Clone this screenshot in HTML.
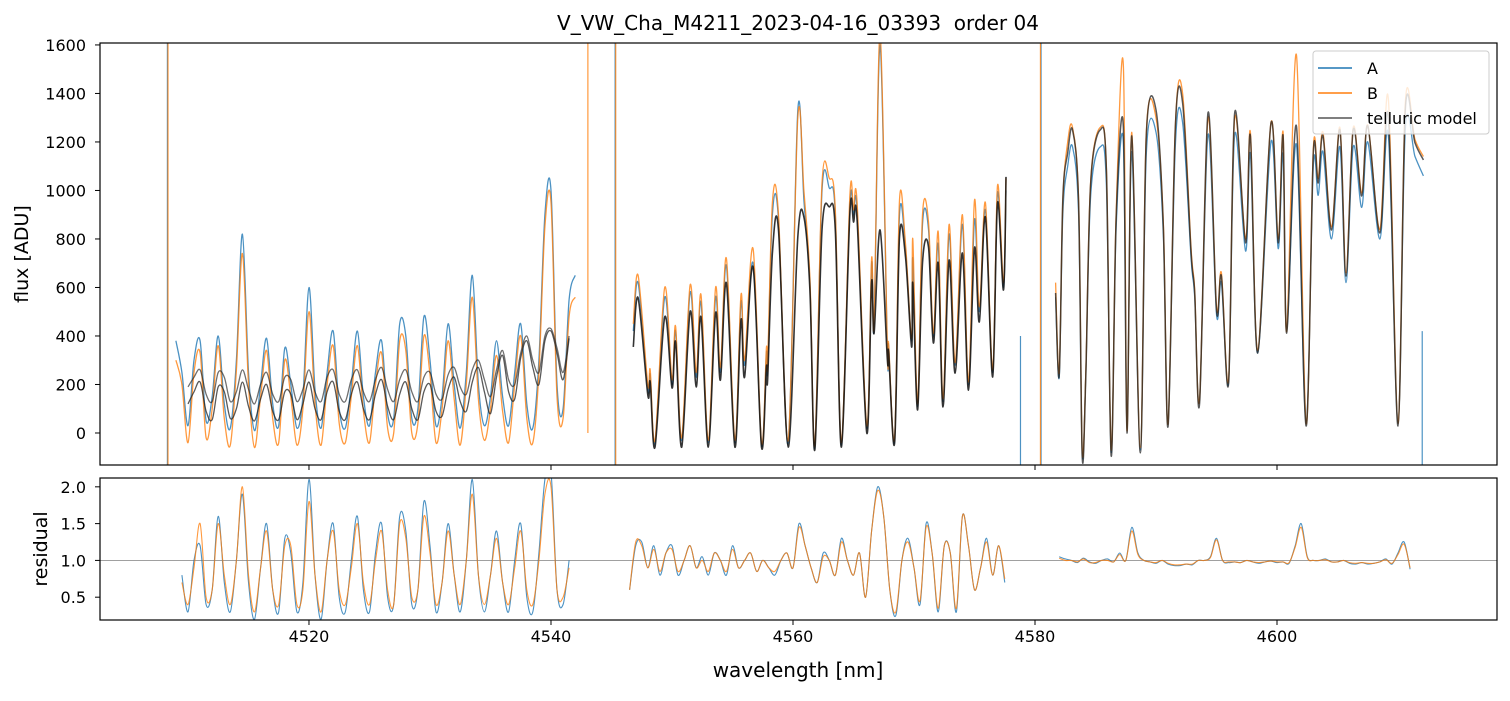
<!DOCTYPE html>
<html><head><meta charset="utf-8"><style>
body{margin:0;background:#fff}
svg text{font-family:"DejaVu Sans","Liberation Sans",sans-serif;fill:#000}
</style></head><body>
<svg id="chart" width="1510" height="696" viewBox="0 0 1510 696" xmlns="http://www.w3.org/2000/svg">
<defs>
<clipPath id="clipTop"><rect x="100" y="43" width="1397" height="422"/></clipPath>
<clipPath id="clipBot"><rect x="100" y="478" width="1397" height="142"/></clipPath>
</defs>
<text x="798" y="30" font-size="20" text-anchor="middle" style="white-space:pre">V_VW_Cha_M4211_2023-04-16_03393  order 04</text>
<g id="topPanel"></g>
<g id="botPanel"></g>
<text transform="translate(28,254) rotate(-90)" font-size="19" text-anchor="middle">flux [ADU]</text>
<text transform="translate(47,549) rotate(-90)" font-size="19" text-anchor="middle">residual</text>
<text x="798" y="677" font-size="20" text-anchor="middle">wavelength [nm]</text>
<g>
<rect x="1313" y="51" width="176" height="83" rx="3" fill="#fff" fill-opacity="0.8" stroke="#ccc"/>
<line x1="1318" y1="68" x2="1352" y2="68" stroke="#1f77b4" stroke-width="1.5"/>
<text x="1367" y="74" font-size="16">A</text>
<line x1="1318" y1="93" x2="1352" y2="93" stroke="#ff7f0e" stroke-width="1.5"/>
<text x="1367" y="99" font-size="16">B</text>
<line x1="1318" y1="118" x2="1352" y2="118" stroke="#555" stroke-width="1.5"/>
<text x="1367" y="124" font-size="16">telluric model</text>
</g>
</svg>
<script>
const xTicks = [4520, 4540, 4560, 4580, 4600];
const fluxTicks = [0, 200, 400, 600, 800, 1000, 1200, 1400, 1600];
const residTicks = [0.5, 1.0, 1.5, 2.0];

const r1Start = 4509.0, r1Step = 0.5;
const fluxA1 = [380,250,30,300,380,50,150,400,120,20,300,820,250,10,200,390,120,30,350,200,20,150,600,180,20,250,420,100,20,200,420,150,30,250,380,80,60,450,400,60,100,480,300,30,150,450,200,20,250,650,200,30,150,380,150,30,250,450,120,20,300,900,1000,200,100,550,650];
const fluxB1 = [300,200,-40,250,330,-20,100,360,60,-50,260,740,200,-60,150,340,60,-40,300,150,-50,100,500,120,-50,200,360,40,-40,150,360,90,-40,200,330,20,0,380,340,0,40,400,240,-40,100,380,140,-50,200,560,140,-30,100,320,90,-40,200,400,60,-40,250,850,950,150,60,480,560];
const modelStart1 = 4510.0;
const modelUp1 = [190,230,260,160,130,250,230,130,170,260,180,120,200,250,160,130,230,220,130,180,260,170,130,230,260,160,130,220,260,170,130,220,270,180,130,220,260,170,130,230,250,160,140,240,270,190,160,260,300,220,150,260,340,220,200,330,400,300,250,400,430,350,250,400];
const modelLo1 = [120,170,210,90,55,190,170,60,100,210,110,50,140,200,90,55,170,160,55,120,210,100,55,170,210,90,55,160,210,100,55,160,220,110,55,160,210,100,55,170,200,90,70,180,230,130,90,210,270,170,80,230,320,170,140,310,380,270,200,380,420,330,220,390];

const wl2 = [4546.8,4547.2,4548.0,4548.2,4548.6,4549.4,4550.0,4550.3,4550.8,4551.5,4552.0,4552.4,4553.0,4553.6,4554.0,4554.5,4555.2,4555.7,4556.0,4556.7,4557.4,4557.8,4557.9,4558.3,4558.8,4559.6,4560.4,4560.9,4561.4,4561.8,4562.4,4563.0,4563.5,4564.0,4564.7,4565.0,4565.3,4566.1,4566.5,4566.7,4567.2,4567.8,4567.9,4568.4,4568.8,4569.3,4569.8,4569.9,4570.3,4570.7,4571.2,4571.6,4572.0,4572.4,4572.9,4573.4,4574.0,4574.5,4575.0,4575.4,4575.9,4576.5,4576.9,4577.4,4577.6];
const model2 = [355,557,157,210,-58,478,186,375,-58,500,190,478,-58,495,218,618,-58,466,231,685,-58,272,218,742,837,-58,808,890,590,-70,837,932,837,-58,907,870,878,0,622,412,837,300,334,-41,808,726,355,618,95,701,767,371,701,107,713,247,742,177,763,458,890,231,948,590,1056];
const fluxA2 = [420,620,180,240,-40,560,200,420,-30,580,230,540,-40,560,250,690,-40,540,280,700,-50,330,260,900,880,-40,1330,960,620,-60,1000,1010,900,-50,940,900,920,20,700,440,1600,330,360,-30,900,760,380,720,110,860,840,400,780,130,820,280,860,200,880,500,920,250,990,600,1000];
const fluxB2 = [450,650,200,260,-30,600,220,440,-20,610,250,570,-30,600,270,720,-30,570,300,760,-40,350,280,950,900,-30,1300,1000,640,-50,1030,1050,920,-40,980,920,950,30,720,450,1650,340,370,-20,960,780,390,800,120,900,870,410,830,140,860,290,900,210,960,520,950,260,1020,620,1050];
const wl3 = [4581.7,4582.0,4582.3,4582.7,4583.1,4583.6,4583.9,4584.2,4584.6,4585.4,4585.9,4586.3,4586.7,4587.3,4587.6,4588.0,4588.7,4589.2,4590.0,4590.6,4591.0,4591.6,4592.2,4592.9,4593.2,4593.6,4594.3,4595.0,4595.4,4596.0,4596.5,4597.4,4597.8,4598.4,4599.5,4600.1,4600.5,4600.8,4601.6,4602.4,4603.0,4603.4,4603.8,4604.5,4605.2,4605.7,4606.3,4607.0,4607.5,4608.5,4609.2,4610.0,4610.6,4611.4,4612.1];
const model3 = [577,235,961,1155,1250,948,-95,235,1031,1250,1085,-95,878,1266,0,1225,-82,1225,1332,854,29,1266,1361,742,577,124,1320,507,647,206,1320,784,1225,330,1278,784,1225,412,1266,29,1155,1031,1225,837,1250,647,1250,977,1266,825,1307,29,1332,1196,1126];
const fluxA3 = [560,230,900,1100,1180,900,-80,240,980,1180,1020,-80,840,1200,20,1160,-70,1150,1240,820,40,1190,1280,720,560,140,1230,490,620,210,1230,750,1150,330,1200,760,1150,420,1190,40,1100,980,1160,800,1180,620,1180,930,1200,800,1230,40,1250,1140,1060];
const fluxB3 = [620,250,950,1200,1260,960,-70,250,1040,1260,1090,-70,900,1520,10,1240,-60,1240,1300,870,40,1270,1400,760,590,140,1300,520,660,220,1300,800,1240,340,1280,800,1240,420,1560,40,1170,1050,1240,850,1260,660,1260,990,1270,840,1380,40,1360,1210,1140];
const spikeWlA = [4508.3, 4545.3, 4578.8, 4580.5, 4612.0];
const spikeLoA = [-200, -200, -200, -200, -200];
const spikeHiA = [2000, 2000, 400, 2000, 420];
const spikeWlB = [4508.3, 4543.0, 4545.3, 4580.4];
const spikeLoB = [-200, 0, -200, -200];
const spikeHiB = [2000, 2000, 2000, 2000];

const res1Start = 4509.5, resStep = 0.5;
const resA1 = [0.8,0.3,1.0,1.2,0.4,0.6,1.6,0.7,0.3,1.0,1.9,0.7,0.2,0.9,1.5,0.6,0.3,1.3,1.1,0.3,0.7,2.1,0.8,0.2,1.0,1.5,0.5,0.3,1.0,1.6,0.6,0.3,1.1,1.5,0.5,0.4,1.6,1.4,0.4,0.6,1.8,1.2,0.3,0.7,1.5,0.8,0.3,1.0,2.1,0.8,0.3,0.8,1.4,0.7,0.3,1.0,1.5,0.5,0.3,1.1,2.1,2.2,0.6,0.4,1.0];
const resB1 = [0.7,0.4,0.9,1.5,0.5,0.6,1.5,0.8,0.4,1.0,2.0,0.8,0.3,0.9,1.4,0.6,0.4,1.2,1.2,0.4,0.6,1.8,0.8,0.3,1.0,1.4,0.6,0.4,0.9,1.5,0.7,0.4,1.0,1.4,0.6,0.4,1.5,1.3,0.5,0.6,1.6,1.1,0.4,0.7,1.4,0.8,0.4,1.0,1.9,0.8,0.4,0.8,1.3,0.7,0.4,0.9,1.4,0.6,0.4,1.0,1.9,2.0,0.6,0.5,0.9];
const res2Start = 4546.5;
const resA2 = [0.6,1.2,1.25,0.9,1.2,0.8,1.1,1.2,0.8,1.0,1.2,0.9,1.05,0.8,1.1,1.0,0.8,1.2,0.9,1.0,1.1,0.85,1.0,0.9,0.8,1.0,1.1,0.9,1.5,1.2,0.9,0.7,1.1,1.0,0.8,1.3,1.0,0.8,1.1,0.5,1.4,2.0,1.6,0.6,0.25,1.0,1.3,0.9,0.4,1.5,1.1,0.3,1.2,1.1,0.3,1.6,1.2,0.6,0.9,1.3,0.8,1.2,0.7];
const resB2 = [0.6,1.25,1.2,0.9,1.15,0.85,1.1,1.15,0.85,1.0,1.2,0.9,1.0,0.85,1.1,1.0,0.85,1.15,0.9,1.0,1.1,0.85,1.0,0.9,0.85,1.0,1.1,0.9,1.45,1.2,0.9,0.7,1.05,1.0,0.8,1.25,1.0,0.8,1.1,0.5,1.4,1.95,1.6,0.6,0.3,1.0,1.25,0.9,0.45,1.45,1.1,0.35,1.2,1.1,0.35,1.6,1.2,0.6,0.9,1.25,0.8,1.2,0.75];
const res3Start = 4582.0;
const resA3 = [1.05,1.02,1.0,0.97,1.03,0.98,0.96,1.0,1.02,0.98,1.1,1.0,1.45,1.1,1.0,0.98,0.96,1.0,0.95,0.93,0.93,0.95,0.94,1.0,1.0,1.05,1.3,1.0,0.97,0.98,0.97,1.0,0.98,0.96,0.98,0.99,0.97,0.98,0.96,1.2,1.5,1.05,1.0,1.0,1.02,0.98,0.98,1.0,0.96,0.95,0.97,0.95,0.96,0.98,1.02,0.95,1.1,1.25,0.88];
const resB3 = [1.03,1.0,1.0,0.98,1.02,0.97,0.97,1.0,1.0,0.98,1.08,1.0,1.4,1.08,1.0,0.98,0.97,1.0,0.96,0.94,0.94,0.95,0.95,1.0,1.0,1.04,1.28,1.0,0.98,0.98,0.97,1.0,0.98,0.97,0.98,0.99,0.98,0.98,0.97,1.18,1.45,1.04,1.0,1.0,1.01,0.98,0.98,1.0,0.97,0.96,0.97,0.96,0.96,0.98,1.01,0.96,1.08,1.22,0.9];

const X0 = 100, X1 = 1497;
const wlMin = 4502.73, wlMax = 4618.18;
const xs = w => X0 + (w - wlMin) / (wlMax - wlMin) * (X1 - X0);
const TY0 = 43, TY1 = 465, fMin = -132, fMax = 1608;
const yf = v => TY1 - (v - fMin) / (fMax - fMin) * (TY1 - TY0);
const BY0 = 478, BY1 = 620, rMin = 0.19, rMax = 2.12;
const yr = v => BY1 - (v - rMin) / (rMax - rMin) * (BY1 - BY0);
const NS = 'http://www.w3.org/2000/svg';
const topG = document.getElementById('topPanel');
const botG = document.getElementById('botPanel');
function mk(tag, attrs, parent) {
  const e = document.createElementNS(NS, tag);
  for (const k in attrs) e.setAttribute(k, attrs[k]);
  parent.appendChild(e); return e;
}
function grid(start, step, vals) { return vals.map((v, i) => [start + i * step, v]); }
function pairs(wl, vals) { return vals.map((v, i) => [wl[i], v]); }
function line(pts, yfn, color, width, op, parent, name) {
  const P = pts.map(p => [xs(p[0]), yfn(p[1])]);
  let d = 'M' + P[0][0].toFixed(1) + ' ' + P[0][1].toFixed(1);
  for (let i = 0; i < P.length - 1; i++) {
    const p0 = P[Math.max(0, i - 1)], p1 = P[i], p2 = P[i + 1], p3 = P[Math.min(P.length - 1, i + 2)];
    const c1 = [p1[0] + (p2[0] - p0[0]) / 6, p1[1] + (p2[1] - p0[1]) / 6];
    const c2 = [p2[0] - (p3[0] - p1[0]) / 6, p2[1] - (p3[1] - p1[1]) / 6];
    d += 'C' + c1[0].toFixed(1) + ' ' + c1[1].toFixed(1) + ' ' + c2[0].toFixed(1) + ' ' + c2[1].toFixed(1) + ' ' + p2[0].toFixed(1) + ' ' + p2[1].toFixed(1);
  }
  const e = mk('path', {d: d, fill: 'none', stroke: color, 'stroke-width': width, 'stroke-opacity': op, 'stroke-linejoin': 'round'}, parent);
  
  
  return e;
}
const gT = mk('g', {'clip-path': 'url(#clipTop)'}, topG);
const gB = mk('g', {'clip-path': 'url(#clipBot)'}, botG);
const cA = '#1f77b4', cB = '#ff7f0e';

line(grid(r1Start, r1Step, fluxA1), yf, cA, 1.3, 0.8, gT, 'flux-a-segment-1');
line(pairs(wl2, fluxA2), yf, cA, 1.3, 0.8, gT, 'flux-a-segment-2');
line(pairs(wl3, fluxA3), yf, cA, 1.3, 0.8, gT, 'flux-a-segment-3');
line(grid(r1Start, r1Step, fluxB1), yf, cB, 1.3, 0.8, gT, 'flux-b-segment-1');
line(pairs(wl2, fluxB2), yf, cB, 1.3, 0.8, gT, 'flux-b-segment-2');
line(pairs(wl3, fluxB3), yf, cB, 1.3, 0.8, gT, 'flux-b-segment-3');
spikeWlA.forEach((w, i) => {
  const e = mk('line', {x1: xs(w), x2: xs(w), y1: yf(spikeLoA[i]), y2: yf(spikeHiA[i]), stroke: cA, 'stroke-width': 1.2, 'stroke-opacity': 0.8}, gT);
  
  
});
spikeWlB.forEach((w, i) => {
  const e = mk('line', {x1: xs(w) + 0.6, x2: xs(w) + 0.6, y1: yf(spikeLoB[i]), y2: yf(spikeHiB[i]), stroke: cB, 'stroke-width': 1.2, 'stroke-opacity': 0.8}, gT);
  
  
});
line(grid(modelStart1, r1Step, modelUp1), yf, '#222', 1.3, 0.65, gT, 'telluric-model-a-segment-1');
line(grid(modelStart1, r1Step, modelLo1), yf, '#222', 1.3, 0.75, gT, 'telluric-model-b-segment-1');
line(pairs(wl2, model2), yf, '#111', 1.6, 0.85, gT, 'telluric-model-segment-2');
line(pairs(wl3, model3), yf, '#222', 1.5, 0.75, gT, 'telluric-model-segment-3');

const hl = mk('line', {x1: X0, x2: X1, y1: yr(1), y2: yr(1), stroke: '#000', 'stroke-width': 0.6, 'stroke-opacity': 0.6}, gB);


line(grid(res1Start, resStep, resA1), yr, cA, 1.1, 0.8, gB, 'residual-a-segment-1');
line(grid(res2Start, resStep, resA2), yr, cA, 1.1, 0.8, gB, 'residual-a-segment-2');
line(grid(res3Start, resStep, resA3), yr, cA, 1.1, 0.8, gB, 'residual-a-segment-3');
line(grid(res1Start, resStep, resB1), yr, cB, 1.1, 0.8, gB, 'residual-b-segment-1');
line(grid(res2Start, resStep, resB2), yr, cB, 1.1, 0.8, gB, 'residual-b-segment-2');
line(grid(res3Start, resStep, resB3), yr, cB, 1.1, 0.8, gB, 'residual-b-segment-3');

[[topG, TY0, TY1, 'flux-axes-frame'], [botG, BY0, BY1, 'residual-axes-frame']].forEach(a => {
  const r = mk('rect', {x: X0, y: a[1], width: X1 - X0, height: a[2] - a[1], fill: 'none', stroke: '#000', 'stroke-width': 1.2}, a[0]);
  
  
});
xTicks.forEach(t => {
  const x = xs(t);
  mk('line', {x1: x, x2: x, y1: TY1, y2: TY1 + 5, stroke: '#000'}, topG);
  mk('line', {x1: x, x2: x, y1: BY1, y2: BY1 + 5, stroke: '#000'}, botG);
  const tx = mk('text', {x: x, y: BY1 + 22, 'font-size': 16, 'text-anchor': 'middle'}, botG);
  tx.textContent = t;
  
  
});
fluxTicks.forEach(t => {
  const y = yf(t);
  mk('line', {x1: X0 - 5, x2: X0, y1: y, y2: y, stroke: '#000'}, topG);
  const tx = mk('text', {x: X0 - 14, y: y + 6, 'font-size': 16, 'text-anchor': 'end'}, topG);
  tx.textContent = t;
  
  
});
residTicks.forEach(t => {
  const y = yr(t);
  mk('line', {x1: X0 - 5, x2: X0, y1: y, y2: y, stroke: '#000'}, botG);
  const tx = mk('text', {x: X0 - 14, y: y + 6, 'font-size': 16, 'text-anchor': 'end'}, botG);
  tx.textContent = t.toFixed(1);
  
  
});
</script>
</body></html>
